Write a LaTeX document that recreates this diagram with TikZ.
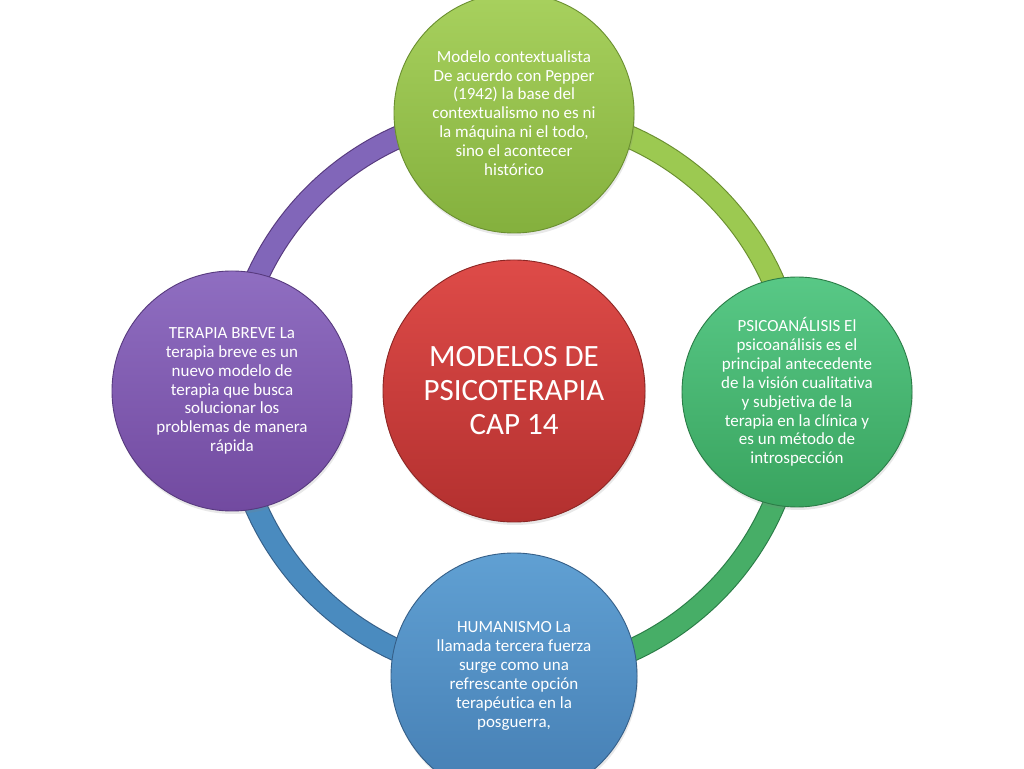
\documentclass[tikz,border=0pt]{standalone}
\usepackage{fontspec}
\setmainfont{Carlito}[Ligatures=NoCommon]
\usetikzlibrary{shadows}
\pgfdeclarelayer{bg}
\pgfsetlayers{bg,main}
\definecolor{limeT}{HTML}{A8D15E}
\definecolor{limeB}{HTML}{84B03D}
\definecolor{limeD}{HTML}{6A8F30}
\definecolor{redT}{HTML}{DE4B48}
\definecolor{redB}{HTML}{B3302F}
\definecolor{redD}{HTML}{8C2624}
\definecolor{purT}{HTML}{8F6EC1}
\definecolor{purB}{HTML}{724AA0}
\definecolor{purD}{HTML}{573A7E}
\definecolor{grnT}{HTML}{58C886}
\definecolor{grnB}{HTML}{39A45F}
\definecolor{grnD}{HTML}{2B7D47}
\definecolor{bluT}{HTML}{60A0D3}
\definecolor{bluB}{HTML}{457EB3}
\definecolor{bluD}{HTML}{355F88}
\definecolor{ringLime}{HTML}{9CC951}
\definecolor{ringGrn}{HTML}{47AE67}
\definecolor{ringBlu}{HTML}{4A8BBF}
\definecolor{ringPur}{HTML}{8166B9}
\begin{document}
\begin{tikzpicture}[x=1pt,y=1pt,
  bubble/.style={circle, inner sep=0pt, align=center, text=white, line width=0.9pt,
    font=\fontsize{17}{18.9}\selectfont,
    drop shadow={shadow xshift=1pt, shadow yshift=-3pt, opacity=0.18}},
  ringseg/.style={line width=1.1pt, double distance=21pt, bend left=45},
]
\useasboundingbox (0,0) rectangle (1024,768);

\node[bubble, minimum size=262pt, top color=redT, bottom color=redB, draw=redD,
      font=\fontsize{31}{34}\selectfont] (core) at (514,377)
  {MODELOS DE\\PSICOTERAPIA\\CAP 14};

\node[bubble, minimum size=240pt, top color=limeT, bottom color=limeB, draw=limeD] (top) at (514,655)
  {Modelo contextualista\\De acuerdo con Pepper\\(1942) la base del\\contextualismo no es ni\\la máquina ni el todo,\\sino el acontecer\\histórico};

\node[bubble, minimum size=230pt, top color=grnT, bottom color=grnB, draw=grnD] (right) at (797,376)
  {PSICOANÁLISIS El\\psicoanálisis es el\\principal antecedente\\de la visión cualitativa\\y subjetiva de la\\terapia en la clínica y\\es un método de\\introspección};

\node[bubble, minimum size=246pt, top color=bluT, bottom color=bluB, draw=bluD] (bottom) at (514,92)
  {HUMANISMO La\\llamada tercera fuerza\\surge como una\\refrescante opción\\terapéutica en la\\posguerra,};

\node[bubble, minimum size=240pt, top color=purT, bottom color=purB, draw=purD] (left) at (232,377)
  {TERAPIA BREVE La\\terapia breve es un\\nuevo modelo de\\terapia que busca\\solucionar los\\problemas de manera\\rápida};

\begin{pgfonlayer}{bg}
  \fill[white] (0,0) rectangle (1024,768);
  \draw[ringseg, draw=limeD, double=ringLime] (top.center) to (right.center);
  \draw[ringseg, draw=grnD, double=ringGrn] (right.center) to (bottom.center);
  \draw[ringseg, draw=bluD, double=ringBlu] (bottom.center) to (left.center);
  \draw[ringseg, draw=purD, double=ringPur] (left.center) to (top.center);
\end{pgfonlayer}
\end{tikzpicture}
\end{document}
